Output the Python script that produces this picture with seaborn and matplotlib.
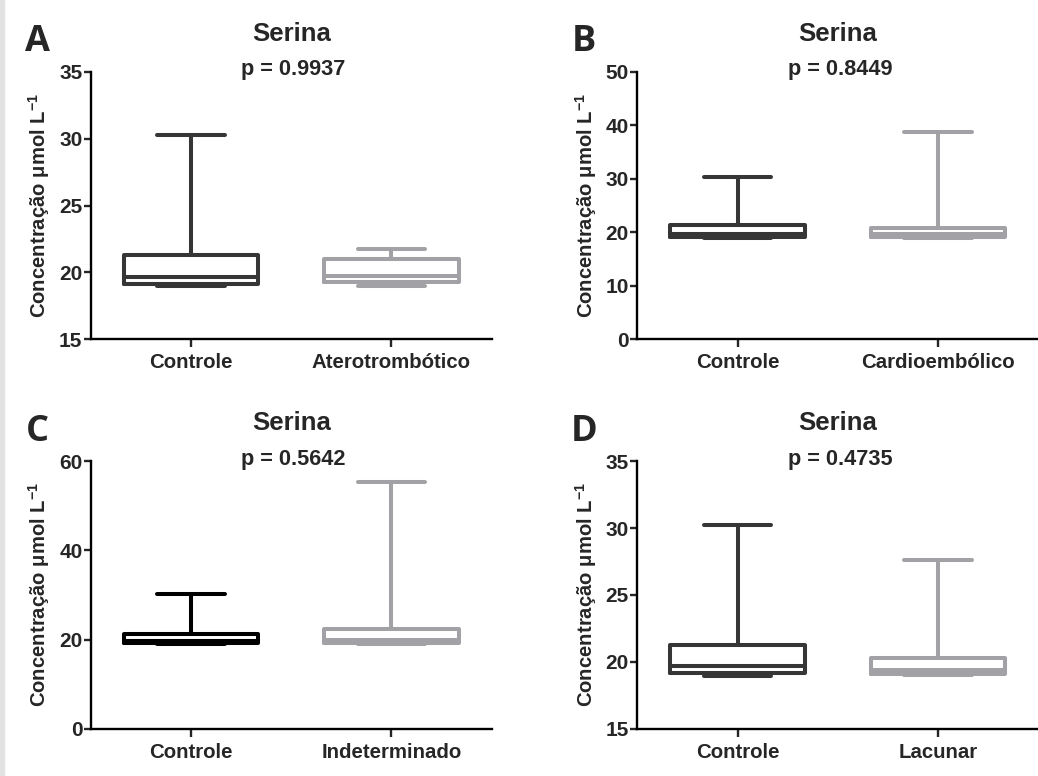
import numpy as np
import pandas as pd
import matplotlib
matplotlib.use("Agg")
import matplotlib.pyplot as plt
import seaborn as sb

# five-number summaries: min, q1, median, q3, max
controle = [18.95, 19.14, 19.69, 21.29, 30.26]
aterotrombotico = [19.02, 19.32, 19.74, 21.02, 21.77]
cardioembolico = [18.95, 19.15, 19.60, 20.80, 38.80]
indeterminado = [19.00, 19.30, 20.00, 22.40, 55.30]
lacunar = [18.98, 19.08, 19.40, 20.30, 27.60]

letras = ["A", "B", "C", "D"]
grupos = ["Aterotrombótico", "Cardioembólico", "Indeterminado", "Lacunar"]
valores = [aterotrombotico, cardioembolico, indeterminado, lacunar]
p_valores = ["0.9937", "0.8449", "0.5642", "0.4735"]
ylims = [(15, 35), (0, 50), (0, 60), (15, 35)]
yticks = [[15, 20, 25, 30, 35], [0, 10, 20, 30, 40, 50], [0, 20, 40, 60], [15, 20, 25, 30, 35]]

cor_controle = ["#363636", "#363636", "#000000", "#363636"]
cor_grupo = "#a2a2a6"

sb.set_style("white")
plt.rcParams["font.family"] = ["Liberation Sans", "DejaVu Sans"]
plt.rcParams["font.weight"] = "bold"
plt.rcParams["mathtext.fontset"] = "custom"
plt.rcParams["mathtext.rm"] = "Liberation Sans:bold"
plt.rcParams["mathtext.bf"] = "Liberation Sans:bold"
plt.rcParams["mathtext.it"] = "Liberation Sans:bold"

fig = plt.figure(figsize=(10.38, 7.76), dpi=100)
fig.patches.append(plt.Rectangle((0, 0), 4 / 1038, 1, transform=fig.transFigure,
                                 color="#e2e2e2", zorder=0))

posicoes = [(0.0874, 0.5628), (0.614, 0.5628), (0.0874, 0.061), (0.614, 0.061)]

for i in range(4):
    ax = fig.add_axes([posicoes[i][0], posicoes[i][1], 0.3863, 0.3446])
    df = pd.DataFrame({
        "grupo": ["Controle"] * 5 + [grupos[i]] * 5,
        "valor": controle + valores[i],
    })
    sb.boxplot(data=df, x="grupo", y="valor", hue="grupo",
               palette=[cor_controle[i], cor_grupo], fill=False,
               whis=(0, 100), width=0.67, linewidth=2.9, showfliers=False,
               legend=False, ax=ax)
    ax.set_xlim(-0.5, 1.5)
    ax.set_ylim(*ylims[i])
    ax.set_yticks(yticks[i])
    ax.set_xlabel("")
    ax.set_ylabel("Concentração $\\mu$mol L$^{-1}$",
                  fontsize=14.6, fontweight="bold", labelpad=5)
    sb.despine(ax=ax)
    for s in ["left", "bottom"]:
        ax.spines[s].set_linewidth(1.7)
        ax.spines[s].set_color("black")
    ax.tick_params(axis="y", direction="out", length=5, width=1.7, left=True,
                   labelsize=15, pad=1)
    ax.tick_params(axis="x", direction="out", length=6, width=1.7, bottom=True,
                   labelsize=14.7, pad=4)
    for lab in ax.get_xticklabels() + ax.get_yticklabels():
        lab.set_fontweight("bold")
    ax.text(0.5, 1.143, "Serina", transform=ax.transAxes, ha="center",
            va="center", fontsize=18.5, fontweight="bold")
    ax.text(0.505, 1.007, "p = " + p_valores[i], transform=ax.transAxes,
            ha="center", va="center", fontsize=15.7, fontweight="bold")
    ax.text(-0.133, 1.11, letras[i], transform=ax.transAxes, ha="center",
            va="center", fontsize=26, fontweight="bold", family=["Open Sans", "DejaVu Sans"])

fig.savefig("out.png", dpi=100)
